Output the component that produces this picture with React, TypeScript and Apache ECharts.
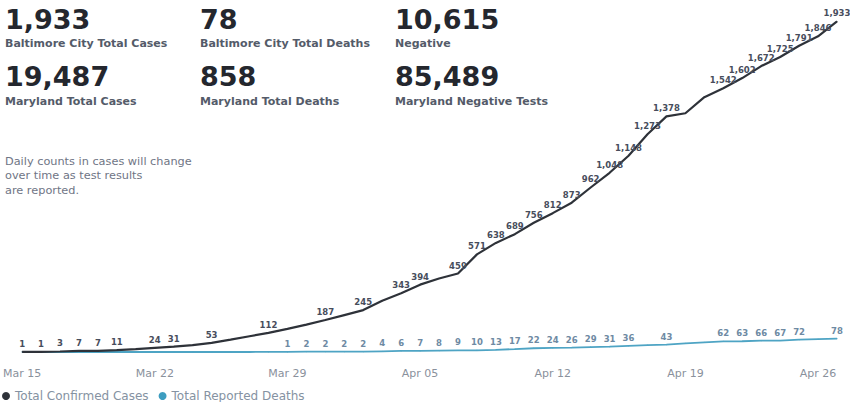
import React, { useEffect, useRef } from "react";
import * as echarts from "echarts";

const dates = [
  "Mar 15", "Mar 16", "Mar 17", "Mar 18", "Mar 19", "Mar 20", "Mar 21", "Mar 22", "Mar 23", "Mar 24",
  "Mar 25", "Mar 26", "Mar 27", "Mar 28", "Mar 29", "Mar 30", "Mar 31", "Apr 01", "Apr 02", "Apr 03",
  "Apr 04", "Apr 05", "Apr 06", "Apr 07", "Apr 08", "Apr 09", "Apr 10", "Apr 11", "Apr 12", "Apr 13",
  "Apr 14", "Apr 15", "Apr 16", "Apr 17", "Apr 18", "Apr 19", "Apr 20", "Apr 21", "Apr 22", "Apr 23",
  "Apr 24", "Apr 25", "Apr 26", "Apr 27",
];

const totalCases = [
  1, 1, 3, 7, 7, 11, 17, 24, 31, 40,
  53, 72, 92, 112, 135, 160, 187, 216, 245, 300,
  343, 394, 430, 459, 571, 638, 689, 756, 812, 873,
  962, 1048, 1148, 1273, 1378, 1396, 1490, 1542, 1602, 1672,
  1725, 1791, 1846, 1933,
];

const totalDeaths = [
  0, 0, 0, 0, 0, 0, 0, 0, 0, 0,
  0, 0, 0, 1, 1, 2, 2, 2, 2, 4,
  6, 7, 8, 9, 10, 13, 17, 22, 24, 26,
  29, 31, 36, 40, 43, 50, 56, 62, 63, 66,
  67, 72, 75, 78,
];

const hiddenCaseLabels = [6, 9, 11, 12, 14, 15, 17, 19, 22, 35, 36];
const hiddenDeathLabels = [0, 1, 2, 3, 4, 5, 6, 7, 8, 9, 10, 11, 12, 13, 33, 35, 36, 42];

const kpiValues = ["1,933", "78", "10,615", "19,487", "858", "85,489"];
const kpiLabels = [
  "Baltimore City Total Cases",
  "Baltimore City Total Deaths",
  "Negative",
  "Maryland Total Cases",
  "Maryland Total Deaths",
  "Maryland Negative Tests",
];
const noteLines = [
  "Daily counts in cases will change",
  "over time as test results",
  "are reported.",
];

const seriesNames = ["Total Confirmed Cases", "Total Reported Deaths"];

export default function App() {
  const ref = useRef<HTMLDivElement>(null);

  useEffect(() => {
    if (!ref.current) return;
    const chart = echarts.init(ref.current, null, { renderer: "svg" });

    const colX = [5, 200, 395];
    const numY = [19, 76];
    const labY = [43, 101];
    const graphics: any[] = [];
    kpiValues.forEach((v, i) => {
      const col = i % 3;
      const row = Math.floor(i / 3);
      graphics.push({
        type: "text",
        x: colX[col],
        y: numY[row],
        style: {
          text: v,
          fontFamily: "DejaVu Sans",
          fontWeight: "bold",
          fontSize: 27,
          fill: "#24272e",
          verticalAlign: "middle",
          align: "left",
        },
      });
      graphics.push({
        type: "text",
        x: colX[col],
        y: labY[row],
        style: {
          text: kpiLabels[i],
          fontFamily: "DejaVu Sans",
          fontWeight: "bold",
          fontSize: 11,
          fill: "#545b69",
          verticalAlign: "middle",
          align: "left",
        },
      });
    });
    noteLines.forEach((t, i) => {
      graphics.push({
        type: "text",
        x: 5,
        y: 161 + i * 14.5,
        style: {
          text: t,
          fontFamily: "DejaVu Sans",
          fontSize: 11.3,
          fill: "#6f7585",
          verticalAlign: "middle",
          align: "left",
        },
      });
    });

    const caseData = totalCases.map((v, i) => ({
      value: v,
      label: { show: !hiddenCaseLabels.includes(i) },
    }));
    const deathData = totalDeaths.map((v, i) => ({
      value: v,
      label: { show: !hiddenDeathLabels.includes(i) },
    }));

    chart.setOption({
      animation: false,
      backgroundColor: "#ffffff",
      graphic: graphics,
      grid: { left: 20, right: 13, top: 10, bottom: 50 },
      legend: {
        data: [
          { name: seriesNames[0], itemStyle: { color: "#2e3239", opacity: 1 } },
          { name: seriesNames[1], itemStyle: { color: "#3d9dc0", opacity: 1 } },
        ],
        left: -3,
        top: 385,
        icon: "circle",
        itemWidth: 8,
        itemHeight: 8,
        itemGap: 10,
        textStyle: { color: "#8592a2", fontSize: 12, fontFamily: "DejaVu Sans" },
      },
      xAxis: {
        type: "category",
        data: dates,
        boundaryGap: false,
        axisLine: { show: false },
        axisTick: { show: false },
        axisLabel: {
          interval: 6,
          margin: 16,
          color: "#8a919c",
          fontSize: 11,
          fontFamily: "DejaVu Sans",
        },
        splitLine: { show: false },
      },
      yAxis: {
        type: "value",
        min: 0,
        max: 2000,
        show: false,
        splitLine: { show: false },
      },
      series: [
        {
          name: seriesNames[0],
          type: "line",
          data: caseData,
          showSymbol: true,
          symbol: "circle",
          symbolSize: 1,
          color: "#2e3239",
          itemStyle: { color: "#2e3239" },
          lineStyle: { color: "#2e3239", width: 2.2 },
          z: 3,
          label: {
            show: true,
            position: "top",
            distance: 3,
            color: "#474d5c",
            fontSize: 8.5,
            fontWeight: "bold",
            fontFamily: "DejaVu Sans",
            formatter: (p: any) => Number(p.value).toLocaleString("en-US"),
          },
        },
        {
          name: seriesNames[1],
          type: "line",
          data: deathData,
          showSymbol: true,
          symbol: "circle",
          symbolSize: 1,
          color: "#3d9dc0",
          itemStyle: { color: "#4ea4c4" },
          lineStyle: { color: "#4ea4c4", width: 1.8 },
          z: 2,
          label: {
            show: true,
            position: "top",
            distance: 3,
            color: "#6e8aa3",
            fontSize: 8.5,
            fontWeight: "bold",
            fontFamily: "DejaVu Sans",
          },
        },
      ],
    });

    return () => chart.dispose();
  }, []);

  return (
    <div
      ref={ref}
      style={{ position: "absolute", left: 0, top: 0, width: 850, height: 402 }}
    />
  );
}
